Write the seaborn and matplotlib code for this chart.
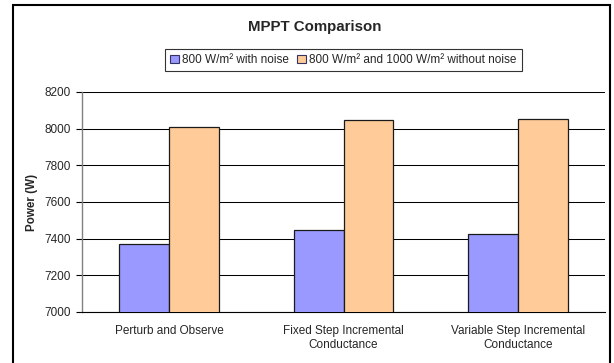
import matplotlib
matplotlib.use("Agg")
import matplotlib.pyplot as plt
from matplotlib.patches import Patch, Rectangle
import seaborn as sns
import pandas as pd

categories = ["Perturb and Observe",
              "Fixed Step Incremental\nConductance",
              "Variable Step Incremental\nConductance"]
series_names = ["800 W/m\u00b2 with noise",
                "800 W/m\u00b2 and 1000 W/m\u00b2 without noise"]
with_noise = [7372, 7445, 7424]
without_noise = [8008, 8050, 8055]
y_ticks = [7000, 7200, 7400, 7600, 7800, 8000, 8200]
colors = ["#9999FF", "#FFCC99"]

sns.set_theme(style="white")
plt.rcParams["font.family"] = ["Liberation Sans", "DejaVu Sans"]

df = pd.DataFrame({
    "Method": categories * 2,
    "Series": [series_names[0]] * 3 + [series_names[1]] * 3,
    "Power": with_noise + without_noise,
})

fig = plt.figure(figsize=(6.14, 3.63), dpi=100)
ax = fig.add_axes([82 / 614, 1 - 312 / 363, (605 - 82) / 614, (312 - 92) / 363])

sns.barplot(data=df, x="Method", y="Power", hue="Series", order=categories,
            hue_order=series_names, palette=colors, saturation=1,
            width=0.573, edgecolor="#1a1a1a", linewidth=0.9, ax=ax,
            legend=False, zorder=3)

ax.set_ylim(7000, 8200)
ax.set_xlim(-0.5, 2.5)
ax.set_yticks(y_ticks)
ax.set_yticklabels([str(v) for v in y_ticks], fontsize=8.5)
ax.yaxis.grid(True, color="black", linewidth=0.75, zorder=0)
ax.set_axisbelow(True)
ax.set_xlabel("")
ax.set_ylabel("Power (W)", fontsize=8.4, fontweight="bold", labelpad=4.5)

ax.tick_params(axis="x", which="major", length=0, labelsize=8.5, pad=9.5)
ax.set_xticks([-0.5, 0.5, 1.5, 2.5], minor=True)
ax.tick_params(axis="x", which="minor", length=4, width=0.8, color="black", direction="out")
ax.tick_params(axis="y", length=4, width=0.8, color="black", direction="out", pad=4, left=True)

for s in ["top", "right"]:
    ax.spines[s].set_visible(False)
ax.spines["left"].set_color("#808080")
ax.spines["left"].set_linewidth(1.0)
ax.spines["bottom"].set_color("black")
ax.spines["bottom"].set_linewidth(0.8)

fig.text(315 / 614, 1 - 27 / 363, "MPPT Comparison", ha="center", va="center",
         fontsize=10.8, fontweight="bold")

handles = [Patch(facecolor=c, edgecolor="#333366", linewidth=0.8) for c in colors]
leg = fig.legend(handles, series_names, loc="center", ncol=2,
                 bbox_to_anchor=(343.5 / 614, 1 - 60 / 363), fontsize=8.5,
                 frameon=True, fancybox=False, handlelength=0.7, handleheight=0.7,
                 handletextpad=0.3, columnspacing=0.7, borderpad=0.45,
                 borderaxespad=0)
leg.get_frame().set_edgecolor("black")
leg.get_frame().set_linewidth(0.8)

fig.patches.append(Rectangle((13 / 614, -0.02), (610 - 13) / 614, 1 - 5 / 363 + 0.02,
                             transform=fig.transFigure, fill=False,
                             edgecolor="black", linewidth=1.5))

fig.savefig("out.png", dpi=100)
